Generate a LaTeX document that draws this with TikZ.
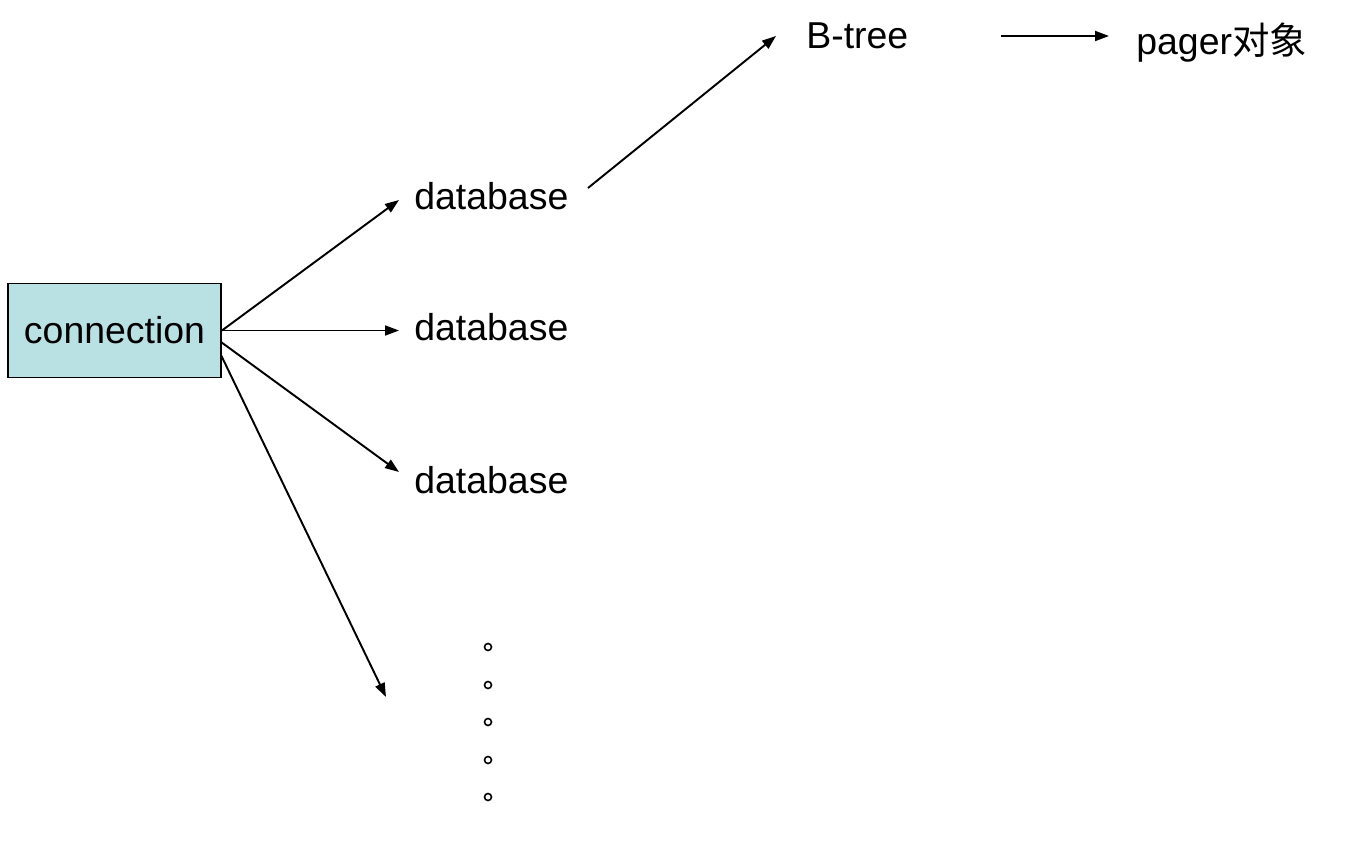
\documentclass[tikz,border=0pt]{standalone}
\usepackage{fontspec}
\setmainfont{Liberation Sans}
\newfontfamily\cjk{Noto Sans CJK SC}
\usetikzlibrary{arrows.meta}
\definecolor{boxfill}{HTML}{B9E0E3}
\tikzset{
  link/.style={draw=black, line width=1.1pt, -{Triangle[length=2.8mm,width=2mm]}},
  word/.style={font=\fontsize{21.3}{25}\selectfont, inner sep=0pt, anchor=base west},
  conbox/.style={draw=black, fill=boxfill, line width=1.1pt, minimum width=4.26cm, minimum height=1.88cm, inner sep=0pt, font=\fontsize{21.3}{25}\selectfont},
  dotc/.style={draw=black, line width=0.9pt},
}
\begin{document}
\begin{tikzpicture}[x=0.02cm,y=-0.02cm]
  \useasboundingbox (0,0) rectangle (1350,848);

  \node[conbox] (conn) at (114.5,330.5) {connection};
  \node[word] (db1) at (414,210) {database};
  \node[word] (db2) at (414,340) {database};
  \node[word] (db3) at (414,493) {database};
  \node[word] (btree) at (806,49) {B-tree};
  \node[word] (pager) at (1136,55) {pager{\cjk 对象}};

  % free ends of the arrows
  \coordinate (c3) at (221,342);
  \coordinate (c4) at (221,355);
  \coordinate (e1) at (399,200);
  \coordinate (e2) at (399,330.5);
  \coordinate (e3) at (399,472);
  \coordinate (e4) at (386,697);
  \coordinate (s5) at (588,188);
  \coordinate (e5) at (776,36);
  \coordinate (s6) at (1001,36);
  \coordinate (e6) at (1109,36);

  \draw[link] (conn.east) -- (e1);
  \draw[link] (conn.east) -- (e2);
  \draw[link] (c3) -- (e3);
  \draw[link] (c4) -- (e4);
  \draw[link] (s5) -- (e5);
  \draw[link] (s6) -- (e6);

  \foreach \y in {647,685,722,760,797}
    \draw[dotc] (488,\y) circle (0.07cm);
\end{tikzpicture}
\end{document}
